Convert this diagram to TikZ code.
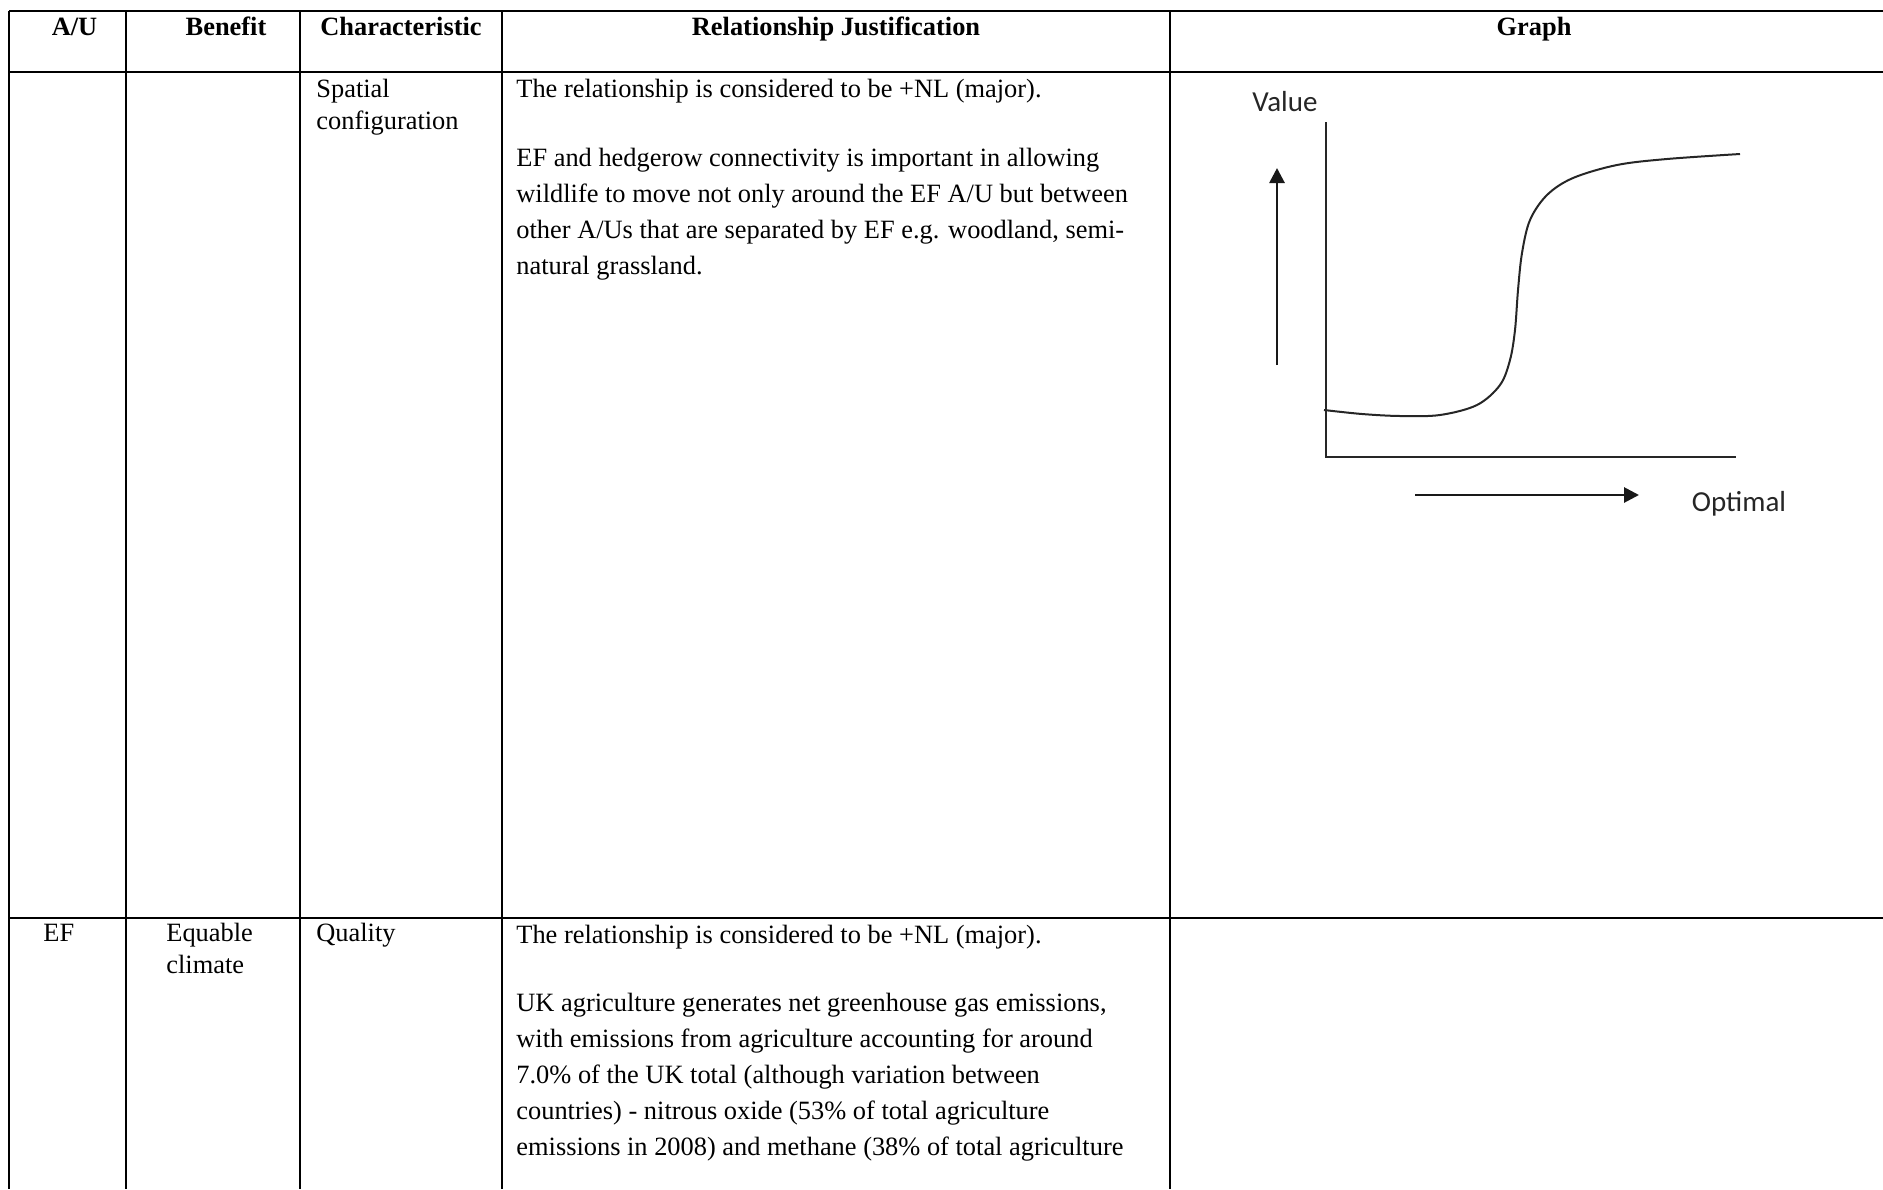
\documentclass[tikz,border=0pt]{standalone}
\usepackage{fontspec}
\setmainfont{Liberation Serif}
\newfontfamily\graphfont{Carlito}
\usetikzlibrary{arrows.meta}

\tikzset{
  rule/.style={line width=1pt},
  head/.style={font=\fontsize{13.2}{18}\selectfont\bfseries, anchor=base, inner sep=0pt},
  cell/.style={font=\fontsize{13.2}{16.2}\selectfont, anchor=base west, align=left, inner sep=0pt},
  para/.style={font=\fontsize{13.2}{18}\selectfont, anchor=base west, align=left, inner sep=0pt},
  axis/.style={line width=1pt, black!85},
  pointer/.style={line width=1.4pt, black!90, -{Triangle[length=7.5pt,width=7.5pt]}},
  graphlabel/.style={font=\graphfont\fontsize{14.5}{16}\selectfont, text=black!85, inner sep=0pt}
}

\begin{document}
\begin{tikzpicture}[x=0.5pt,y=-0.5pt]
\useasboundingbox (0,0) rectangle (1883,1189);
\clip (0,0) rectangle (1883,1189);
%\draw [help lines, step=100] (0,0) grid (1883,1189);
\draw [rule] (9,11) -- (1883,11);
\draw [rule] (9,72) -- (1883,72);
\draw [rule] (9,918) -- (1883,918);
\foreach \x in {9,126,300,502,1170}
  \draw [rule] (\x,11) -- (\x,1189);
% header row
\node [head] (hAU) at (74.5,35) {A/U};
\node [head] (hBenefit) at (226,35) {Benefit};
\node [head] (hChar) at (401,35) {Characteristic};
\node [head] (hJust) at (836,35) {Relationship Justification};
\node [head] (hGraph) at (1534,35) {Graph};
% first row (multi-line nodes sit on their last line)
\node [cell] (charA) at (316,129.4) {Spatial\\configuration};
\node [para] (justA1) at (516,97) {The relationship is considered to be +NL (major).};
\node [para] (justA2) at (516,274) {EF and hedgerow connectivity is important in allowing\\
  wildlife to move not only around the EF A/U but between\\
  other A/Us that are separated by EF e.g. woodland, semi-\\
  natural grassland.};
% second row
\node [cell] (auB) at (43,941.5) {EF};
\node [cell] (benB) at (166,973.9) {Equable\\climate};
\node [cell] (charB) at (316,941.5) {Quality};
\node [para] (justB1) at (516,943) {The relationship is considered to be +NL (major).};
\node [para] (justB2) at (516,1155) {UK agriculture generates net greenhouse gas emissions,\\
  with emissions from agriculture accounting for around\\
  7.0\% of the UK total (although variation between\\
  countries) - nitrous oxide (53\% of total agriculture\\
  emissions in 2008) and methane (38\% of total agriculture};
% graph
\coordinate (ytop) at (1326,122);
\coordinate (origin) at (1326,457);
\coordinate (xend) at (1736,457);
\draw [axis] (ytop) -- (origin) -- (xend);
\draw [axis] plot [smooth, tension=0.55] coordinates {(1324,410) (1362,414) (1400,416) (1440,415)
  (1477,405) (1500,385) (1510,360) (1515,330) (1518,290) (1522,253) (1530,220)
  (1547,195) (1573,178) (1617,165) (1667,159) (1740,154)};
\coordinate (upfrom) at (1277,365);
\coordinate (upto) at (1277,168);
\draw [pointer] (upfrom) -- (upto);
\coordinate (rightfrom) at (1415,495);
\coordinate (rightto) at (1639,495);
\draw [pointer] (rightfrom) -- (rightto);
\node [graphlabel] (value) at (1285,102) {Value};
\node [graphlabel] (optimal) at (1739,504) {Optimal};
\end{tikzpicture}
\end{document}
